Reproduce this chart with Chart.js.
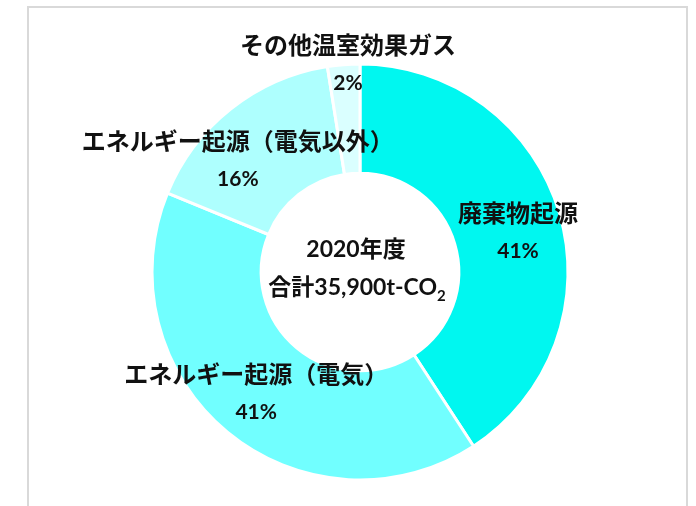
<!DOCTYPE html>
<html>
<head>
<meta charset="utf-8">
<script src="https://cdn.jsdelivr.net/npm/chart.js@4.4.0/dist/chart.umd.min.js"></script>
<style>
    html, body { margin: 0; padding: 0; background: #fff; }
    #wrap { position: relative; width: 696px; height: 506px; overflow: hidden; }
    #frame {
        position: absolute; left: 27px; top: 6px; width: 661px; height: 540px;
        border: 2px solid #d9d9d9; box-sizing: border-box;
    }
    #chart { position: absolute; left: 0; top: 0; }
</style>
</head>
<body>
<div id="wrap">
    <div id="frame"></div>
    <canvas id="chart" width="696" height="506"></canvas>
</div>
<script>
// Categories and values (t-CO2, total 35,900)
const categories = ['廃棄物起源', 'エネルギー起源（電気）', 'エネルギー起源（電気以外）', 'その他温室効果ガス'];
const amounts = [14650, 14500, 5850, 900];
const percentLabels = ['41%', '41%', '16%', '2%'];
const centerTitle = '2020年度';
const centerTotal = '合計35,900t-CO';
const centerSub = '2';

const colors = ['#00F7F0', '#71FFFF', '#AEFFFE', '#DAFFFF'];
const FONT = "Lato, 'Noto Sans CJK JP', sans-serif";

// label offsets from the middle of each ring segment
const labelShift = [[11, 4], [-6, 3], [-27, 9], [0, -55]];

const sliceLabels = {
    id: 'sliceLabels',
    afterDatasetsDraw(chart) {
        const ctx = chart.ctx;
        const meta = chart.getDatasetMeta(0);
        ctx.save();
        ctx.fillStyle = '#111';
        ctx.textAlign = 'center';
        ctx.textBaseline = 'middle';
        meta.data.forEach(function(arc, i) {
            const mid = (arc.startAngle + arc.endAngle) / 2;
            const r = (arc.innerRadius + arc.outerRadius) / 2;
            const x = arc.x + Math.cos(mid) * r + labelShift[i][0];
            const y = arc.y + Math.sin(mid) * r + labelShift[i][1];
            ctx.font = 'bold 24px ' + FONT;
            ctx.fillText(categories[i], x, y - 18);
            ctx.font = 'bold 21px ' + FONT;
            ctx.fillText(percentLabels[i], x, y + 19);
        });

        // centre text
        const cx = meta.data[0].x;
        const cy = meta.data[0].y;
        ctx.font = 'bold 23px ' + FONT;
        ctx.fillText(centerTitle, cx - 4, cy - 22);
        const w1 = ctx.measureText(centerTotal).width;
        ctx.font = 'bold 15px ' + FONT;
        const w2 = ctx.measureText(centerSub).width;
        const left = cx - 3 - (w1 + w2) / 2;
        ctx.textAlign = 'left';
        ctx.font = 'bold 23px ' + FONT;
        ctx.fillText(centerTotal, left, cy + 16);
        ctx.font = 'bold 15px ' + FONT;
        ctx.fillText(centerSub, left + w1, cy + 24);
        ctx.restore();
    }
};

new Chart(document.getElementById('chart'), {
    type: 'doughnut',
    data: {
        labels: categories,
        datasets: [{
            data: amounts,
            backgroundColor: colors,
            borderColor: '#ffffff',
            borderWidth: 3
        }]
    },
    options: {
        responsive: false,
        animation: false,
        radius: 208,
        cutout: '47.5%',
        layout: { padding: { left: 24, right: 0, top: 40, bottom: 2 } },
        plugins: {
            legend: { display: false },
            tooltip: { enabled: false }
        }
    },
    plugins: [sliceLabels]
});
</script>
</body>
</html>
